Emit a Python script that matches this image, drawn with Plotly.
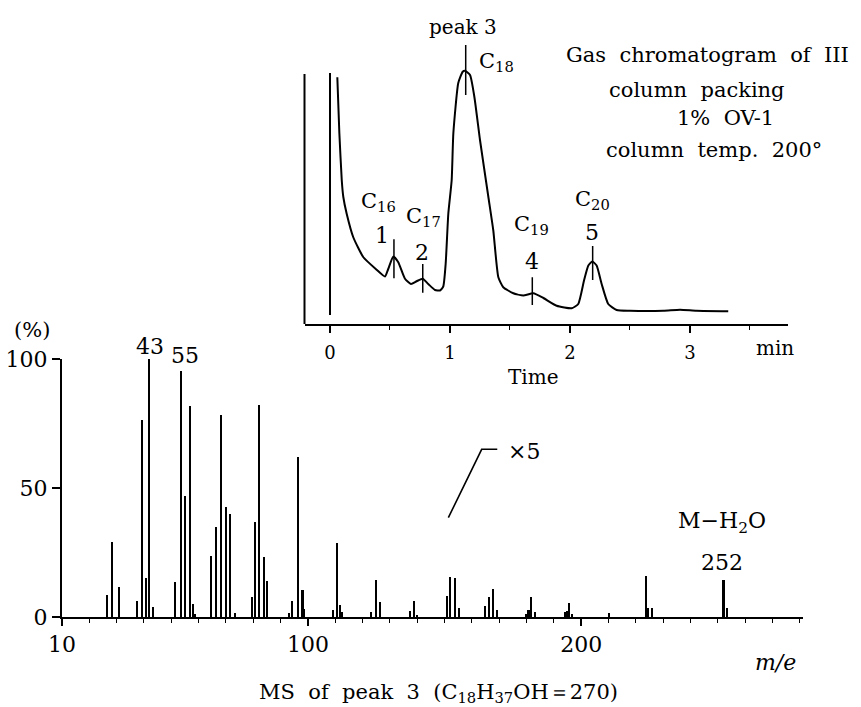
import plotly.graph_objects as go

W, H = 861, 707

# ---------------- Mass spectrum data (m/e, relative intensity %) ----------------
ms_mz = [26.5, 28.3, 30.9, 37.5, 39.3, 40.7, 41.8, 43.3,
         51.4, 53.6, 55.0, 56.9, 57.9, 58.7,
         64.5, 66.4, 68.2, 70.0, 71.5, 73.3,
         79.5, 80.6, 82.1, 83.9, 85.0,
         93.1, 94.2, 96.4, 98.0, 98.7,
         109.1, 110.7, 111.8, 112.6,
         123.0, 124.8, 126.3,
         137.4, 138.7, 139.8,
         150.8, 152.1, 153.8, 155.4,
         164.8, 166.3, 167.6, 169.2,
         179.7, 180.7, 181.5, 183.1,
         194.1, 195.0, 195.7, 196.6,
         210.2,
         223.6, 224.5, 225.8,
         252.1, 253.3]
ms_int = [8.5, 29, 11.5, 6.3, 76.5, 15, 100, 3.7,
          13.6, 95.5, 46.8, 81.7, 5.2, 1.3,
          23.8, 34.8, 78.4, 42.6, 39.8, 1.5,
          7.8, 37, 82, 23.3, 13.8,
          1.5, 6.3, 62, 10.3, 3,
          2.8, 28.8, 4.8, 1.9,
          1.9, 14.2, 5.7,
          2.2, 6.1, 0.8,
          8.1, 15.6, 15.1, 3.6,
          4.1, 7.9, 11, 2.6,
          1.3, 2.6, 7.8, 1.9,
          1.9, 2.2, 5.4, 1.3,
          1.5,
          15.9, 3.4, 3.6,
          14.3, 3.4]
ms_xticks = [10, 100, 200]
ms_yticks = [0, 50, 100]

# ---------------- Gas chromatogram data (time in min, detector response, arbitrary units) ----------------
gc_time = [0.061, 0.078, 0.098, 0.111, 0.139, 0.194, 0.278, 0.389, 0.458, 0.486, 0.528, 0.569,
           0.625, 0.675, 0.722, 0.773, 0.819, 0.875, 0.917, 0.944, 0.964, 0.986, 1.014, 1.028,
           1.069, 1.106, 1.125, 1.167, 1.203, 1.25, 1.319, 1.361, 1.403, 1.444, 1.528, 1.611,
           1.694, 1.778, 1.889, 2.014, 2.069, 2.117, 2.153, 2.186, 2.222, 2.264, 2.319, 2.389,
           2.5, 2.778, 2.917, 3.056, 3.319]
gc_signal = [98.7, 76.3, 57.5, 50.8, 44.1, 34.7, 26.7, 21.7, 19.0, 22.1, 27.0, 24.7,
             18.1, 16.0, 17.1, 18.1, 16.0, 13.6, 13.4, 15.0, 24.1, 44.1, 57.5, 76.3,
             96.4, 100.9, 101.3, 99.6, 90.9, 73.6, 51.1, 37.4, 18.7, 14.7, 12.3, 11.4,
             12.3, 10.4, 7.3, 6.3, 8.0, 17.4, 23.4, 25.0, 23.4, 16.0, 8.0, 5.6,
             5.3, 5.3, 5.7, 5.3, 5.1]
inject_time = [0, 0]
inject_signal = [3.6, 100.4]
peak_no = ["1", "2", "3", "4", "5"]
peak_name = ["16", "17", "18", "19", "20"]
peak_time = [0.533, 0.773, 1.131, 1.686, 2.189]
peak_mark_lo = [18.3, 12.5, 91.6, 7.6, 17.6]
peak_mark_hi = [33.9, 24.0, 111.6, 18.7, 31.2]
gc_xticks = [0, 1, 2, 3]

SERIF = "DejaVu Serif"


def px(x):
    return x / W


def py(y):
    return 1 - y / H


fig = go.Figure()

# Mass spectrum sticks
fig.add_trace(go.Bar(x=ms_mz, y=ms_int, width=0.8, marker=dict(color="black", line=dict(width=0)),
                     xaxis="x", yaxis="y", showlegend=False))

# Chromatogram
fig.add_trace(go.Scatter(x=gc_time, y=gc_signal, mode="lines",
                         line=dict(color="black", width=2, shape="spline", smoothing=0.5),
                         xaxis="x2", yaxis="y2", showlegend=False))
fig.add_trace(go.Scatter(x=inject_time, y=inject_signal, mode="lines",
                         line=dict(color="black", width=2), xaxis="x2", yaxis="y2", showlegend=False))
mx, my = [], []
for t, lo, hi in zip(peak_time, peak_mark_lo, peak_mark_hi):
    mx += [t, t, None]
    my += [lo, hi, None]
fig.add_trace(go.Scatter(x=mx, y=my, mode="lines", line=dict(color="black", width=1.5),
                         xaxis="x2", yaxis="y2", showlegend=False))

fig.update_layout(
    template="none",
    width=W, height=H, margin=dict(l=0, r=0, t=0, b=0, autoexpand=False),
    paper_bgcolor="white", plot_bgcolor="white", bargap=0,
    font=dict(family=SERIF, color="black"),
    xaxis=dict(domain=[px(62), px(803)], range=[10, 281.2], anchor="y", automargin=False,
               showline=True, linecolor="black", linewidth=2, showgrid=False, zeroline=False,
               tickvals=ms_xticks, ticktext=[str(v) for v in ms_xticks],
               ticks="outside", ticklen=7, tickwidth=1.5, tickcolor="black",
               minor=dict(dtick=10, tick0=10, ticks="outside", ticklen=4, tickwidth=1.2,
                          tickcolor="black", showgrid=False),
               tickfont=dict(family=SERIF, size=22, color="black")),
    yaxis=dict(domain=[py(617), py(359)], range=[0, 100], anchor="x", automargin=False,
               showline=True, linecolor="black", linewidth=2, showgrid=False, zeroline=False,
               tickvals=ms_yticks, ticks="outside", ticklen=8, tickwidth=1.5, tickcolor="black",
               tickfont=dict(family=SERIF, size=22, color="black")),
    xaxis2=dict(domain=[px(304.5), px(788)], range=[-0.2125, 3.817], anchor="y2", automargin=False,
                showline=True, linecolor="black", linewidth=2, showgrid=False, zeroline=False,
                tickvals=gc_xticks, ticks="outside", ticklen=7, tickwidth=1.5, tickcolor="black",
                minor=dict(dtick=0.5, tick0=0, ticks="outside", ticklen=4, tickwidth=1.2,
                           tickcolor="black", showgrid=False),
                ticklabelstandoff=4,
                tickfont=dict(family=SERIF, size=18, color="black")),
    yaxis2=dict(domain=[py(324), py(24)], range=[0, 120], anchor="x2", automargin=False,
                showline=False, showgrid=False, zeroline=False, showticklabels=False, ticks=""),
)

# chromatogram vertical axis line (only up to the signal scale top)
fig.add_shape(type="line", xref="x2 domain", yref="y2", x0=0, x1=0, y0=0, y1=100,
              line=dict(color="black", width=2))
# "x5" callout line
fig.add_shape(type="path", xref="x", yref="y", path="M 151.4,38.5 L 163.6,65 L 169.3,65",
              line=dict(color="black", width=1.6))


def ann(text, x, y, size=20, xanchor="center"):
    fig.add_annotation(text=text, x=px(x), y=py(y), xref="paper", yref="paper",
                       showarrow=False, xanchor=xanchor, yanchor="middle",
                       font=dict(family=SERIF, size=size, color="black"))


# Mass spectrum labels
ann("(%)", 32, 330, 21)
ann("43", 150, 346, 22)
ann("55", 185, 356, 22)
ann("×5", 524, 451, 22)
ann("M−H<sub>2</sub>O", 722, 522, 22)
ann("252", 722, 562, 22)
ann("<i>m/e</i>", 775, 662, 22)
ann("MS  of  peak  3  (C<sub>18</sub>H<sub>37</sub>OH＝270)", 438, 693, 21)

# Chromatogram labels
ann("peak 3", 463, 27, 20)
ann("C<sub>" + peak_name[2] + "</sub>", 477, 62, 21, xanchor="left")
lab_pos = {0: ((378, 202), (381.7, 235)), 1: ((423, 217), (421.7, 252)),
           3: ((531.7, 225), (532.3, 262)), 4: ((592.3, 200), (592.3, 233))}
for i, ((cx, cy), (nx, ny)) in lab_pos.items():
    ann("C<sub>" + peak_name[i] + "</sub>", cx, cy, 21)
    ann(peak_no[i], nx, ny, 22)
ann("min", 775, 348, 20)
ann("Time", 533, 377, 20)
ann("Gas  chromatogram  of  III", 707, 55, 21)
ann("column  packing", 697, 90, 21)
ann("1%  OV-1", 725, 118, 21)
ann("column  temp.  200°", 714, 150, 21)

fig.write_html("out.html", config={"displayModeBar": False},
               post_script="document.body.style.margin='0';document.body.style.overflow='hidden';")
